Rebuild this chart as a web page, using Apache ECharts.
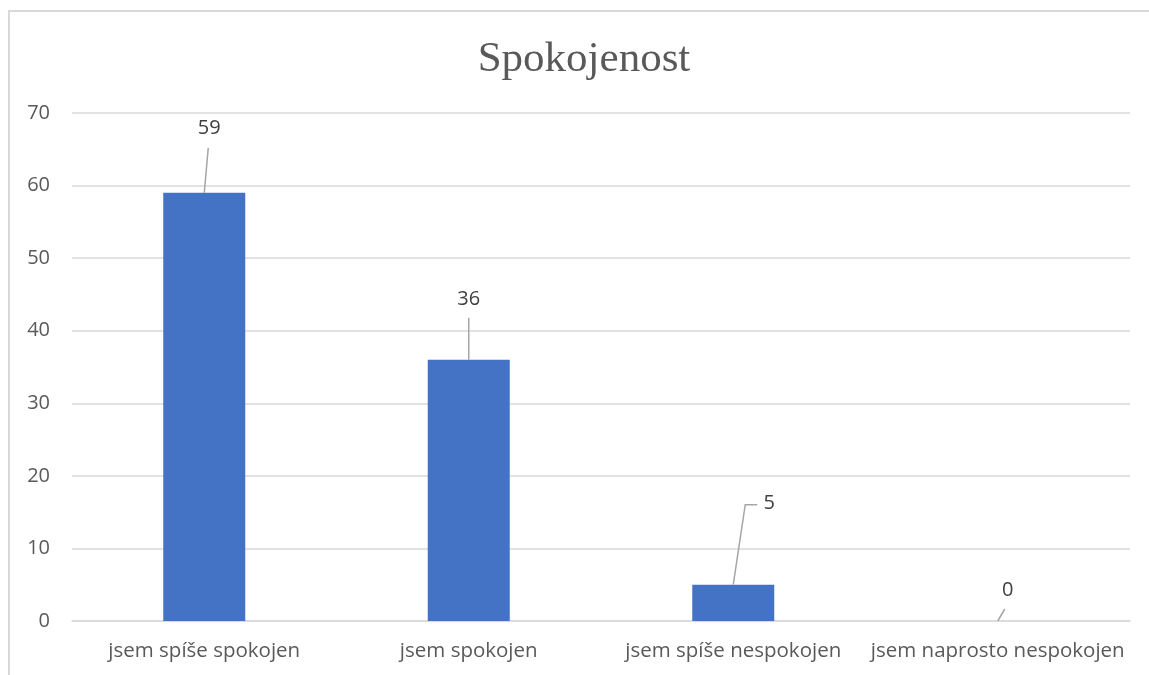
<!DOCTYPE html>
<html>
<head>
<meta charset="utf-8">
<script src="https://cdn.jsdelivr.net/npm/echarts@6/dist/echarts.min.js"></script>
<style>
  html, body { margin: 0; padding: 0; background: #fff; }
  #frame {
    position: absolute; left: 8px; top: 10px; width: 1160px; height: 700px;
    border: 2px solid #d9d9d9; box-sizing: border-box;
  }
  #chart { position: absolute; left: 0; top: 0; width: 1149px; height: 675px; }
</style>
</head>
<body>
<div id="frame"></div>
<div id="chart"></div>
<script>
// data
const categories = ['jsem spíše spokojen', 'jsem spokojen', 'jsem spíše nespokojen', 'jsem naprosto nespokojen']
const values = [59, 36, 5, 0]

// vodicí čáry popisků: body čáry a střed popisku relativně k vrcholu sloupce (px)
const leaders = [
  { line: [[4, -45]], label: [5, -65] },
  { line: [[0, -42]], label: [0, -60] },
  { line: [[12, -80], [24, -80]], label: [36, -81] },
  { line: [[7, -12]], label: [10, -31] }
]

const font = 'Open Sans'
const chart = echarts.init(document.getElementById('chart'), null, { renderer: 'canvas' })

chart.setOption({
  animation: false,
  title: {
    text: 'Spokojenost',
    left: 579,
    top: 33,
    textAlign: 'center',
    textStyle: {
      fontFamily: 'Liberation Serif',
      fontSize: 43,
      fontWeight: 'normal',
      color: '#595959'
    }
  },
  grid: { left: 72, right: 19, top: 113, bottom: 54, containLabel: false },
  xAxis: {
    type: 'category',
    data: categories,
    axisLine: { lineStyle: { color: '#d9d9d9', width: 1.5 } },
    axisTick: { show: false },
    axisLabel: { color: '#595959', fontFamily: font, fontSize: 20.5, margin: 20, interval: 0 }
  },
  yAxis: {
    type: 'value',
    min: 0,
    max: 70,
    interval: 10,
    axisLine: { show: false },
    axisTick: { show: false },
    splitLine: { lineStyle: { color: '#d9d9d9', width: 1.5 } },
    axisLabel: { color: '#595959', fontFamily: font, fontSize: 20, margin: 22 }
  },
  series: [{
    type: 'bar',
    data: values,
    barWidth: 82,
    itemStyle: { color: '#4472c4' }
  }, {
    type: 'custom',
    data: values.map((v, i) => [i, v]),
    z: 5,
    renderItem: function (params, api) {
      const i = params.dataIndex
      const p = api.coord([api.value(0), api.value(1)])
      const ld = leaders[i]
      const pts = [[p[0], p[1]]].concat(ld.line.map(d => [p[0] + d[0], p[1] + d[1]]))
      return {
        type: 'group',
        children: [{
          type: 'polyline',
          shape: { points: pts },
          style: { stroke: '#a6a6a6', lineWidth: 1.5, fill: null }
        }, {
          type: 'text',
          x: p[0] + ld.label[0],
          y: p[1] + ld.label[1],
          style: {
            text: String(api.value(1)),
            fill: '#404040',
            font: '20px "' + font + '"',
            align: 'center',
            verticalAlign: 'middle'
          }
        }]
      }
    }
  }]
})
</script>
</body>
</html>
